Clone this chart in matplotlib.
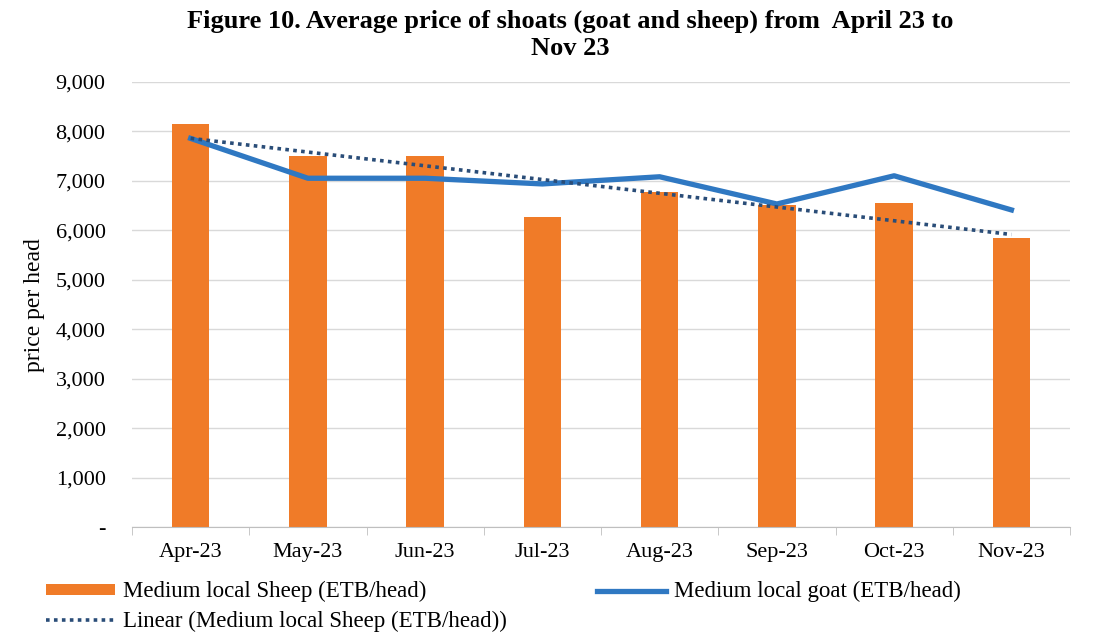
import matplotlib
matplotlib.use('Agg')
import matplotlib.pyplot as plt
import numpy as np
from matplotlib.ticker import FuncFormatter

months = ['Apr-23', 'May-23', 'Jun-23', 'Jul-23', 'Aug-23', 'Sep-23', 'Oct-23', 'Nov-23']
sheep = [8150, 7500, 7500, 6280, 6770, 6520, 6560, 5840]
goat = [7860, 7055, 7055, 6940, 7085, 6535, 7105, 6415]

plt.rcParams['font.family'] = ['Liberation Serif', 'DejaVu Serif']

fig = plt.figure(figsize=(11.13, 6.44), dpi=100)
ax = fig.add_axes([0.1186, 0.181, 0.8428, 0.6917])

x = np.arange(len(months))
bars = ax.bar(x, sheep, width=0.32, color='#f07b28', zorder=2,
              label='Medium local Sheep (ETB/head)')
goat_line, = ax.plot(x, goat, color='#2f78c2', lw=3.8, zorder=3,
                     solid_joinstyle='round', label='Medium local goat (ETB/head)')

# linear trend of the sheep series
k, b = np.polyfit(x, sheep, 1)
trend, = ax.plot(x, k * x + b, color='#2a4d78', lw=2.6, ls=(0, (1, 1.2)), zorder=4,
                 label='Linear (Medium local Sheep (ETB/head))')

ax.set_xlim(-0.5, len(months) - 0.5)
ax.set_ylim(0, 9000)
ax.set_yticks(range(0, 9001, 1000))
ax.yaxis.set_major_formatter(FuncFormatter(lambda v, p: '-' if v == 0 else f'{int(v):,}'))
ax.grid(axis='y', color='#d9d9d9', lw=1, zorder=0)
ax.set_xticks(x)
ax.set_xticklabels(months)
ax.set_xticks(np.arange(-0.5, len(months)), minor=True)
ax.tick_params(axis='x', which='major', length=0, pad=11, labelsize=16)
ax.tick_params(axis='x', which='minor', length=6, color='#bfbfbf')
ax.tick_params(axis='y', length=0, pad=19, labelsize=16)
for s in ['top', 'right', 'left']:
    ax.spines[s].set_visible(False)
ax.spines['bottom'].set_color('#bfbfbf')

ax.set_ylabel('price per head', fontsize=17, labelpad=8)
fig.text(0.512, 0.985, 'Figure 10. Average price of shoats (goat and sheep) from  April 23 to\nNov 23',
         ha='center', va='top', fontsize=19, fontweight='bold', linespacing=1.2)

fig.legend([bars, trend, goat_line],
           [bars.get_label(), trend.get_label(), goat_line.get_label()],
           loc='lower left', bbox_to_anchor=(0.023, -0.014), ncol=2, frameon=False,
           fontsize=16.5, handlelength=3.0, handleheight=0.4, handletextpad=0.35,
           columnspacing=3.95, labelspacing=0.38)

fig.savefig('out.png', dpi=100)
